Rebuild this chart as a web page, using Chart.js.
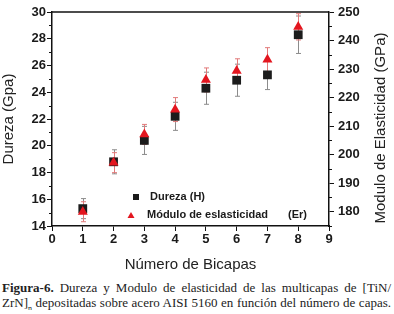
<!DOCTYPE html>
<html>
<head>
<meta charset="utf-8">
<script src="https://cdn.jsdelivr.net/npm/chart.js@4.4.0/dist/chart.umd.min.js"></script>
<style>
  body { margin: 0; background: #fff; }
  #wrap { position: relative; width: 394px; height: 278px; }
  .cap {
    font-family: "Liberation Serif", "Times New Roman", serif;
    font-size: 13px;
    line-height: 15px;
    color: #222;
    width: 389px;
    margin-left: 2px;
    white-space: nowrap;
    text-align: justify;
    text-align-last: justify;
  }
  .cap sub { font-size: 8px; line-height: 0; }
</style>
</head>
<body>
<div id="wrap"><canvas id="grafico" width="394" height="278"></canvas></div>
<div class="cap" style="margin-top:2px"><b>Figura-6.</b> Dureza y Modulo de elasticidad de las multicapas de [TiN/</div>
<div class="cap">ZrN]<sub>n</sub> depositadas sobre acero AISI 5160 en función del número de capas.</div>

<script>
// datos
const bicapas = [1, 2, 3, 4, 5, 6, 7, 8];
const dureza = [15.3, 18.8, 20.4, 22.2, 24.3, 24.9, 25.3, 28.3];
const durezaErr = [0.75, 0.9, 1.05, 1.05, 1.2, 1.2, 1.1, 1.4];
const modulo = [180.0, 197.2, 207.1, 215.8, 226.2, 229.4, 233.3, 244.8];
const moduloErr = [3.5, 3.5, 3.5, 4.2, 4.2, 4.2, 4.2, 4.6];

const ejeX = [0, 9];
const ejeDureza = [14, 30];
const ejeModulo = [175, 250];
const ticksModulo = [180, 190, 200, 210, 220, 230, 240, 250];

const leyenda = ['Dureza (H)', 'Módulo de eslasticidad', '(Er)'];

const fuente = "'Liberation Sans', Arial, sans-serif";

function puntos(xs, ys) {
    let arr = [];
    for (let i = 0; i < xs.length; i++) arr.push({ x: xs[i], y: ys[i] });
    return arr;
}

// barras de error (por debajo de los marcadores)
const barrasError = {
    id: 'barrasError',
    beforeDatasetsDraw(chart) {
        const ctx = chart.ctx;
        const x = chart.scales.x;
        const series = [
            { vals: dureza, errs: durezaErr, eje: chart.scales.y, color: '#8c8c8c' },
            { vals: modulo, errs: moduloErr, eje: chart.scales.y2, color: '#e27a7a' }
        ];
        ctx.save();
        ctx.lineWidth = 1;
        series.forEach(function (s) {
            ctx.strokeStyle = s.color;
            for (let i = 0; i < bicapas.length; i++) {
                const px = Math.round(x.getPixelForValue(bicapas[i])) + 0.5;
                const y1 = s.eje.getPixelForValue(s.vals[i] + s.errs[i]);
                const y2 = s.eje.getPixelForValue(s.vals[i] - s.errs[i]);
                ctx.beginPath();
                ctx.moveTo(px, y1); ctx.lineTo(px, y2);
                ctx.moveTo(px - 2.5, y1); ctx.lineTo(px + 2.5, y1);
                ctx.moveTo(px - 2.5, y2); ctx.lineTo(px + 2.5, y2);
                ctx.stroke();
            }
        });
        ctx.restore();
    }
};

// marco superior, ticks menores, titulo derecho y leyenda
const extras = {
    id: 'extras',
    afterDraw(chart) {
        const ctx = chart.ctx;
        const a = chart.chartArea;
        const y = chart.scales.y;
        const y2 = chart.scales.y2;
        ctx.save();
        ctx.strokeStyle = '#111';
        ctx.lineWidth = 1.5;
        ctx.beginPath();
        ctx.moveTo(a.left, a.top);
        ctx.lineTo(a.right, a.top);
        ctx.stroke();

        ctx.lineWidth = 1;
        ctx.beginPath();
        for (let v = ejeDureza[0] + 1; v < ejeDureza[1]; v += 2) {
            const py = Math.round(y.getPixelForValue(v)) + 0.5;
            ctx.moveTo(a.left - 3, py); ctx.lineTo(a.left, py);
        }
        for (let v = ejeModulo[0]; v < ejeModulo[1]; v += 10) {
            const py = Math.round(y2.getPixelForValue(v)) + 0.5;
            ctx.moveTo(a.right, py); ctx.lineTo(a.right + 3, py);
        }
        ctx.stroke();

        // titulo del eje derecho (se lee de abajo hacia arriba)
        ctx.fillStyle = '#222';
        ctx.font = '15px ' + fuente;
        ctx.textAlign = 'center';
        ctx.textBaseline = 'middle';
        ctx.translate(381, (a.top + a.bottom) / 2 + 9);
        ctx.rotate(-Math.PI / 2);
        ctx.fillText('Modulo de Elasticidad (GPa)', 0, 0);
        ctx.restore();

        // leyenda
        ctx.save();
        ctx.fillStyle = '#1a1a1a';
        ctx.fillRect(a.left + 81, a.top + 182, 6, 6);
        ctx.fillStyle = '#e3161f';
        ctx.beginPath();
        ctx.moveTo(a.left + 79, a.top + 200);
        ctx.lineTo(a.left + 82.5, a.top + 206);
        ctx.lineTo(a.left + 75.5, a.top + 206);
        ctx.closePath();
        ctx.fill();
        ctx.fillStyle = '#1a1a1a';
        ctx.font = 'bold 11px ' + fuente;
        ctx.textBaseline = 'middle';
        ctx.fillText(leyenda[0], a.left + 98, a.top + 185);
        ctx.fillText(leyenda[1], a.left + 95, a.top + 203);
        ctx.fillText(leyenda[2], a.left + 236, a.top + 203);
        ctx.restore();
    }
};

const ejeComun = {
    border: { color: '#111', width: 1.5 },
    grid: { drawOnChartArea: false, tickLength: 5, color: '#111', tickWidth: 1 },
};
const fuenteTicks = { size: 13, family: fuente, weight: 'bold' };

const chartDureza = new Chart(document.getElementById('grafico'), {
    type: 'scatter',
    data: {
        datasets: [
            {
                label: leyenda[1],
                data: puntos(bicapas, modulo),
                yAxisID: 'y2',
                pointStyle: 'triangle',
                pointRadius: 5.8,
                pointHoverRadius: 5.8,
                backgroundColor: '#e3161f',
                borderColor: '#e3161f',
                borderWidth: 0,
                order: 0
            },
            {
                label: leyenda[0],
                data: puntos(bicapas, dureza),
                yAxisID: 'y',
                pointStyle: 'rect',
                pointRadius: 6.2,
                pointHoverRadius: 6.2,
                backgroundColor: '#1c1c1c',
                borderColor: '#1c1c1c',
                borderWidth: 0,
                order: 1
            }
        ]
    },
    options: {
        responsive: false,
        animation: false,
        events: [],
        layout: { padding: { top: 12, left: 0, right: 0, bottom: 0 } },
        plugins: { legend: { display: false }, tooltip: { enabled: false } },
        scales: {
            x: {
                ...ejeComun,
                type: 'linear',
                position: 'bottom',
                min: ejeX[0],
                max: ejeX[1],
                ticks: { stepSize: 1, padding: 1, color: '#1a1a1a', font: fuenteTicks },
                title: { display: true, text: 'Número de Bicapas', color: '#222', font: { size: 15, family: fuente }, padding: { top: 0, bottom: 4 } },
                afterFit: function (s) { s.height = 52; }
            },
            y: {
                ...ejeComun,
                position: 'left',
                min: ejeDureza[0],
                max: ejeDureza[1],
                ticks: { stepSize: 2, padding: 1, color: '#1a1a1a', font: fuenteTicks },
                title: { display: true, text: 'Dureza (Gpa)', color: '#222', font: { size: 15, family: fuente }, padding: { top: 0, bottom: 0 } },
                afterFit: function (s) { s.width = 52; }
            },
            y2: {
                ...ejeComun,
                position: 'right',
                min: ejeModulo[0],
                max: ejeModulo[1],
                ticks: { padding: 4, color: '#1a1a1a', font: fuenteTicks },
                afterBuildTicks: function (s) { s.ticks = ticksModulo.map(v => ({ value: v })); },
                afterFit: function (s) { s.width = 65; }
            }
        }
    },
    plugins: [barrasError, extras]
});
</script>
</body>
</html>
